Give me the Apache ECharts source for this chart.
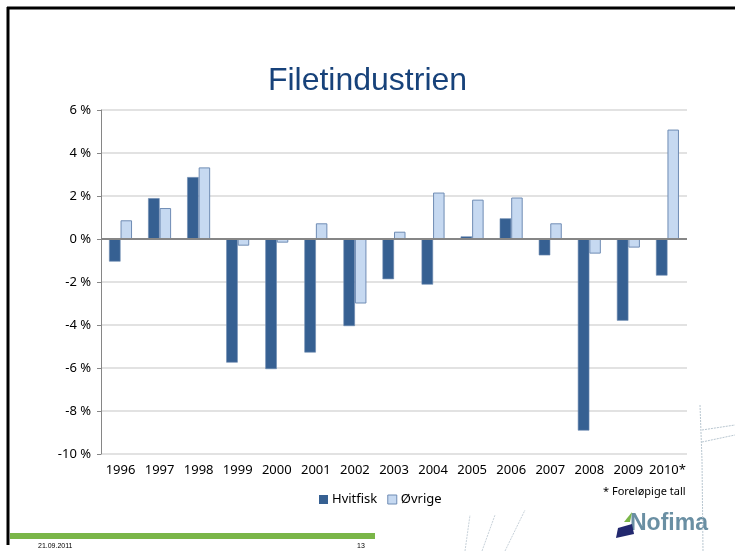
<!DOCTYPE html>
<html>
<head>
<meta charset="utf-8">
<script src="https://cdn.jsdelivr.net/npm/echarts@6/dist/echarts.min.js"></script>
<style>
html,body{margin:0;padding:0;background:#fff;}
#chart{width:735px;height:551px;}
</style>
</head>
<body>
<div id="chart"></div>
<script>
const categories = ['1996','1997','1998','1999','2000','2001','2002','2003','2004','2005','2006','2007','2008','2009','2010*'];
const hvitfisk = [-1.05, 1.9, 2.88, -5.75, -6.05, -5.28, -4.05, -1.87, -2.12, 0.12, 0.96, -0.76, -8.91, -3.8, -1.7];
const ovrige   = [0.87, 1.44, 3.33, -0.31, -0.17, 0.73, -3.0, 0.34, 2.16, 1.83, 1.93, 0.73, -0.68, -0.4, 5.09];
const yTicks = { min: -10, max: 6, interval: 2 };

const chart = echarts.init(document.getElementById('chart'), null, {renderer: 'canvas'});
const font = '"Noto Sans", sans-serif';
chart.setOption({
  animation: false,
  backgroundColor: '#fff',
  title: {
    text: 'Filetindustrien',
    left: 'center',
    top: 60,
    textStyle: {fontFamily: '"Liberation Sans", Arial, sans-serif', fontSize: 32, fontWeight: 'normal', color: '#17427a'}
  },
  legend: {
    data: [
      {name: 'Hvitfisk', icon: 'rect', itemStyle: {color: '#366092', borderWidth: 0}},
      {name: 'Øvrige', icon: 'rect', itemStyle: {color: '#c6d9f1', borderColor: '#6f8cb4', borderWidth: 1}}
    ],
    top: 488,
    left: 314,
    itemWidth: 9,
    itemHeight: 9,
    itemGap: 10,
    textStyle: {fontFamily: font, fontSize: 13, color: '#000', padding: [0,0,0,-1]}
  },
  grid: {left: 101, right: 48, top: 110, bottom: 97},
  xAxis: {
    type: 'category',
    data: categories,
    axisLine: {show: false},
    axisTick: {show: false},
    axisLabel: {fontFamily: font, fontSize: 13, color: '#000', margin: 10, interval: 0}
  },
  yAxis: {
    type: 'value',
    min: yTicks.min, max: yTicks.max, interval: yTicks.interval,
    axisLine: {show: true, lineStyle: {color: '#868686', width: 1}},
    axisTick: {show: true, length: 4, lineStyle: {color: '#868686'}},
    axisLabel: {fontFamily: font, fontSize: 13, color: '#000', margin: 10, formatter: v => v + ' %'},
    splitLine: {show: true, lineStyle: {color: '#d9d9d9', width: 1.5}}
  },
  series: [
    {
      name: 'Hvitfisk', type: 'bar', data: hvitfisk,
      barWidth: 11.5, barGap: '0%',
      itemStyle: {color: '#366092', borderColor: '#6c8ab0', borderWidth: 0.6},
      markLine: {
        silent: true, symbol: 'none', label: {show: false},
        lineStyle: {color: '#868686', width: 2, type: 'solid'},
        data: [{yAxis: 0}]
      }
    },
    {
      name: 'Øvrige', type: 'bar', data: ovrige,
      barWidth: 11.5,
      itemStyle: {color: '#c6d9f1', borderColor: '#6f8cb4', borderWidth: 1}
    }
  ],
  graphic: [
    {type: 'line', shape: {x1: 7, y1: 8, x2: 735, y2: 8}, style: {stroke: '#000', lineWidth: 3}},
    {type: 'line', shape: {x1: 8, y1: 7, x2: 8, y2: 545}, style: {stroke: '#000', lineWidth: 3}},
    {type: 'rect', shape: {x: 10, y: 533, width: 365, height: 6}, style: {fill: '#7ab648'}},
    {type: 'text', left: 38, top: 543, style: {text: '21.09.2011', font: '7px "Liberation Sans", Arial', fill: '#000'}},
    {type: 'text', left: 357, top: 543, style: {text: '13', font: '7px "Liberation Sans", Arial', fill: '#000'}},
    {type: 'text', left: 603, top: 486, style: {text: '* Foreløpige tall', font: '11px "Noto Sans", sans-serif', fill: '#000'}},
    {type: 'text', left: 630, top: 512, style: {text: 'Nofima', font: 'bold 23px "Liberation Sans", Arial', fill: '#6a8fa3'}},
    {type: 'polygon', shape: {points: [[618,528],[632,524],[634,534],[616,538]]}, style: {fill: '#22286e'}},
    {type: 'polygon', shape: {points: [[624,522],[632,512],[630,522]]}, style: {fill: '#7ab648'}},
    {type: 'polyline', shape: {points: [[700,405],[702,460],[703,551]]}, style: {stroke: '#b8c6d0', lineWidth: 1, lineDash: [2,1]}},
    {type: 'polyline', shape: {points: [[702,430],[735,425]]}, style: {stroke: '#b8c6d0', lineWidth: 1, lineDash: [2,1]}},
    {type: 'polyline', shape: {points: [[702,442],[735,435]]}, style: {stroke: '#b8c6d0', lineWidth: 1, lineDash: [2,1]}},
    {type: 'polyline', shape: {points: [[465,551],[470,515]]}, style: {stroke: '#c8d2da', lineWidth: 1, lineDash: [2,1]}},
    {type: 'polyline', shape: {points: [[482,551],[495,515]]}, style: {stroke: '#c8d2da', lineWidth: 1, lineDash: [2,1]}},
    {type: 'polyline', shape: {points: [[505,551],[525,510]]}, style: {stroke: '#c8d2da', lineWidth: 1, lineDash: [2,1]}}
  ]
});
</script>
</body>
</html>
